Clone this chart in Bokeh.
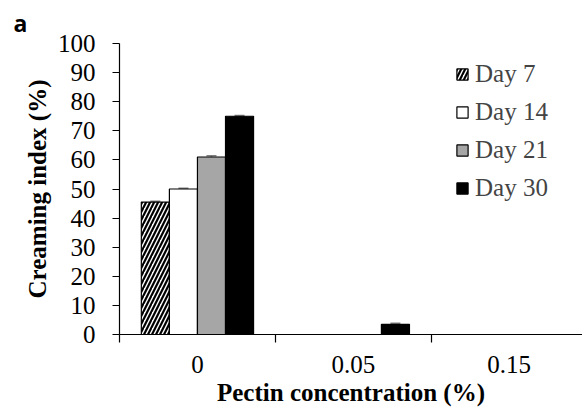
from bokeh.plotting import figure
from bokeh.models import FixedTicker, Legend, LegendItem, Whisker, ColumnDataSource
from bokeh.embed import file_html
from bokeh.resources import INLINE

concentrations = ["0", "0.05", "0.15"]
days = ["Day 7", "Day 14", "Day 21", "Day 30"]
day7 = [45.5, 0, 0]
day14 = [50.0, 0, 0]
day21 = [61.0, 0, 0]
day30 = [75.0, 3.5, 0]
err7 = [0.3, 0, 0]
err14 = [0.3, 0, 0]
err21 = [0.4, 0, 0]
err30 = [0.3, 0.4, 0]
yticks = list(range(0, 101, 10))

series = [day7, day14, day21, day30]
errors = [err7, err14, err21, err30]
fills = [None, "white", "#A6A6A6", "black"]
offsets = [-0.27, -0.09, 0.09, 0.27]
bar_w = 0.18

serif = "Liberation Serif"
fs = "25px"

p = figure(width=582, height=412, output_backend="svg", toolbar_location=None,
           x_range=(0, 2.97), y_range=(0, 100),
           min_border_left=119, min_border_top=43, min_border_bottom=78, min_border_right=0)
p.outline_line_color = None
p.xgrid.grid_line_color = None
p.ygrid.grid_line_color = None

p.title.text = "a"
p.title.align = "left"
p.title.offset = -106
p.title.standoff = 9
p.title.text_font = "Open Sans"
p.title.text_font_style = "bold"
p.title.text_font_size = "23px"
p.title.text_color = "black"

items = []
for k, (vals, errs, fill, off, name) in enumerate(zip(series, errors, fills, offsets, days)):
    xs = [i + 0.5 + off for i in range(len(concentrations))]
    src = ColumnDataSource(dict(x=xs, top=vals))
    if fill is None:
        r = p.vbar(x="x", top="top", width=bar_w, source=src, fill_color="white",
                   line_color="black", line_width=1.2,
                   hatch_pattern="right_diagonal_line", hatch_color="black",
                   hatch_scale=8, hatch_weight=2.2)
    else:
        r = p.vbar(x="x", top="top", width=bar_w, source=src, fill_color=fill,
                   line_color="black", line_width=1.2)
    items.append(LegendItem(label=name, renderers=[r]))
    nz = [i for i, e in enumerate(errs) if e > 0]
    esrc = ColumnDataSource(dict(x=[xs[i] for i in nz], up=[vals[i] + errs[i] for i in nz],
                                 lo=[vals[i] - errs[i] for i in nz]))
    w = Whisker(base="x", upper="up", lower="lo", source=esrc, dimension="height",
                line_color="#7f7f7f", line_width=1.5)
    for h in (w.upper_head, w.lower_head):
        h.size = 10
        h.line_color = "#7f7f7f"
        h.line_width = 1.5
    p.add_layout(w)

legend = Legend(items=items, location=(336, 132), padding=0, spacing=10,
                label_height=24, glyph_height=14, glyph_width=14, label_standoff=6,
                border_line_color=None, background_fill_alpha=0,
                label_text_font=serif, label_text_font_size=fs, margin=0)
p.add_layout(legend, "center")

xax = p.xaxis[0]
xax.ticker = FixedTicker(ticks=[0.5, 1.5, 2.5], minor_ticks=[0, 1, 2, 3])
xax.major_label_overrides = {0.5: "0", 1.5: "0.05", 2.5: "0.15"}
xax.major_tick_out = 0
xax.major_tick_in = 0
xax.minor_tick_out = 8
xax.minor_tick_in = 0
xax.minor_tick_line_color = "black"
xax.axis_line_color = "black"
xax.axis_line_width = 1.2
xax.minor_tick_line_width = 1.2
xax.major_label_standoff = 13
xax.major_label_text_font = serif
xax.major_label_text_font_size = fs
xax.major_label_text_color = "black"
xax.axis_label = "Pectin concentration (%)"
xax.axis_label_text_font = serif
xax.axis_label_text_font_style = "bold"
xax.axis_label_text_font_size = fs
xax.axis_label_standoff = 3
xax.axis_label_text_color = "black"

yax = p.yaxis[0]
yax.ticker = FixedTicker(ticks=yticks, minor_ticks=[])
yax.major_tick_out = 7
yax.major_tick_in = 0
yax.major_tick_line_width = 1.2
yax.axis_line_width = 1.2
yax.major_label_standoff = 17
yax.major_label_text_font = serif
yax.major_label_text_font_size = fs
yax.major_label_text_color = "black"
yax.axis_label = "Creaming index (%)"
yax.axis_label_text_font = serif
yax.axis_label_text_font_style = "bold"
yax.axis_label_text_font_size = fs
yax.axis_label_standoff = 4
yax.axis_label_text_color = "black"

open("out.html", "w").write(file_html(p, INLINE))
